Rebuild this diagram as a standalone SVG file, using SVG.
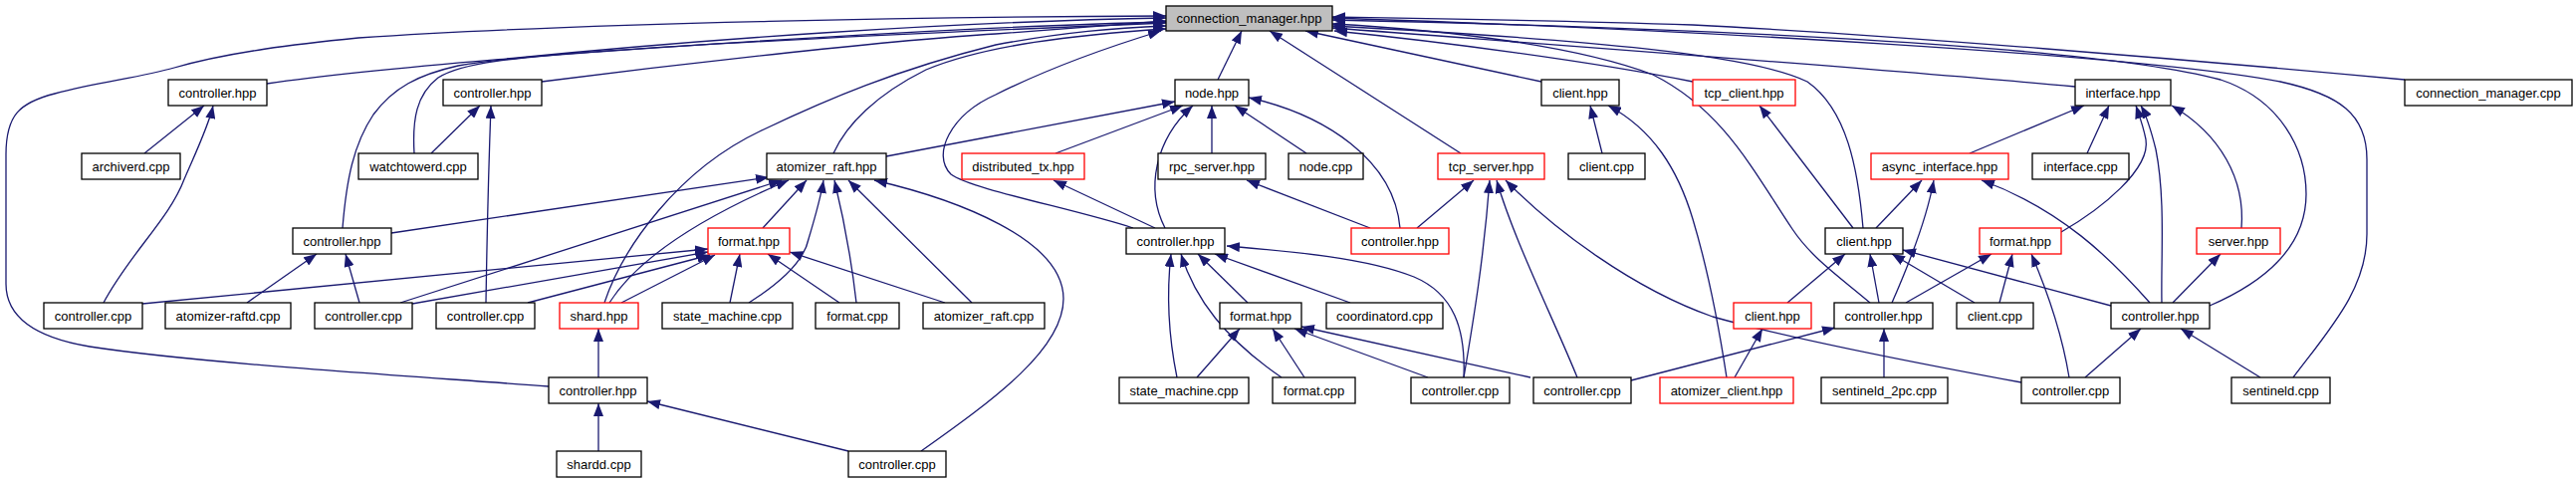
<svg xmlns="http://www.w3.org/2000/svg" width="2587" height="485" viewBox="0 0 2587 485">
<defs>
<style>
.nd rect{fill:#ffffff;stroke:#000000;stroke-width:1.3}
.nd.red rect{stroke:#ff0000}
.nd.root rect{fill:#bfbfbf}
.nd text{font-family:"Liberation Sans",Arial,sans-serif;font-size:13px;fill:#000000;text-anchor:middle}
.edges path{fill:none;stroke:#191970;stroke-width:1.3;marker-end:url(#ah)}
</style>
<marker id="ah" viewBox="0 0 13 10" refX="13" refY="5" markerWidth="13" markerHeight="10" markerUnits="userSpaceOnUse" orient="auto"><path d="M0,0 L13,5 L0,10 z" fill="#191970"/></marker>
</defs>
<rect width="2587" height="485" fill="#ffffff"/>
<g class="edges">
<!-- into connection_manager.hpp -->
<path d="M551,388 C420,378 200,365 90,348 C30,338 6,315 6,285 L6,155 C6,115 20,103 55,94 C100,82 140,78 175,68 C230,52 300,44 360,38 C600,22 950,17 1171,16"/>
<path d="M268,84 C350,72 450,64 520,58 C700,40 950,22 1171,18"/>
<path d="M544,82 C700,62 900,40 1000,34 C1080,28 1130,24 1171,21"/>
<path d="M344,229 C348,180 355,145 375,115 C395,88 420,75 460,66 C520,55 700,42 1171,23"/>
<path d="M416,154 C414,120 418,95 440,78 C465,62 520,58 600,52 C800,38 1000,26 1171,22"/>
<path d="M607,304 C625,250 680,170 767,130 C830,100 900,70 1000,45 C1070,32 1120,28 1171,26"/>
<path d="M837,154 C850,125 880,95 930,70 C990,45 1080,35 1171,29"/>
<path d="M1138,229 C1080,210 975,190 955,175 C935,155 955,115 1000,95 C1060,65 1120,45 1166,31"/>
<path d="M1223,80 L1247,31"/>
<path d="M1467,154 L1275,31"/>
<path d="M1548,82 L1311,31"/>
<path d="M1700,82 C1600,62 1450,42 1340,31"/>
<path d="M2084,87 C1900,70 1600,48 1338,28"/>
<path d="M2415,80 C2200,60 1900,35 1700,25 C1550,20 1400,18 1338,17"/>
<path d="M2219,307 C2270,285 2316,250 2316,195 C2316,150 2290,100 2230,80 C2100,45 1700,28 1338,20"/>
<path d="M2303,379 C2340,330 2377,290 2377,235 L2377,160 C2377,115 2350,95 2290,82 C2150,55 1700,30 1338,18"/>
<path d="M1878,304 C1850,280 1820,260 1800,230 C1760,170 1730,110 1660,75 C1580,45 1450,30 1338,24"/>
<path d="M1871,229 C1866,170 1855,110 1815,82 C1760,55 1600,40 1338,26"/>
<!-- left area -->
<path d="M145,154 L205,106"/>
<path d="M104,304 C130,255 170,220 185,180 C198,150 210,125 214,106"/>
<path d="M433,154 L482,106"/>
<path d="M488,304 C489,240 491,160 493,106"/>
<path d="M248,304 L318,255"/>
<path d="M361,304 L347,255"/>
<path d="M393,234 L772,178"/>
<path d="M402,304 L785,181"/>
<path d="M612,304 C640,260 700,220 792,181"/>
<path d="M766,229 L810,181"/>
<path d="M752,304 C790,280 808,260 812,240 C818,220 824,200 827,181"/>
<path d="M860,304 C855,260 845,210 838,181"/>
<path d="M976,304 L852,181"/>
<path d="M925,453 C1000,400 1068,350 1068,300 C1068,240 960,200 878,181"/>
<path d="M143,305 L711,250"/>
<path d="M414,305 L711,253"/>
<path d="M530,304 L713,256"/>
<path d="M624,304 L718,256"/>
<path d="M733,304 L743,255"/>
<path d="M843,304 L771,255"/>
<path d="M949,304 L793,253"/>
<path d="M601,379 L601,330"/>
<path d="M601,453 L601,405"/>
<path d="M852,453 L650,403"/>
<!-- node.hpp -->
<path d="M890,157 L1180,102"/>
<path d="M1060,154 L1188,106"/>
<path d="M1170,229 C1150,190 1160,140 1198,106"/>
<path d="M1217,154 L1217,106"/>
<path d="M1312,154 L1240,106"/>
<path d="M1406,229 C1400,160 1330,115 1254,98"/>
<path d="M1160,229 L1058,181"/>
<path d="M1376,229 L1252,181"/>
<!-- tcp_server.hpp -->
<path d="M1423,229 L1480,181"/>
<path d="M1470,379 C1480,320 1490,260 1496,181"/>
<path d="M1584,379 C1560,320 1520,240 1503,181"/>
<path d="M2030,384 C1900,360 1780,335 1720,318 C1640,290 1560,230 1512,181"/>
<!-- client.hpp row1 -->
<path d="M1609,154 L1597,106"/>
<path d="M1734,379 C1725,320 1712,260 1700,220 C1685,170 1660,130 1615,106"/>
<path d="M1861,229 L1767,106"/>
<!-- interface.hpp -->
<path d="M1978,154 L2093,106"/>
<path d="M2096,154 L2118,106"/>
<path d="M2070,233 C2110,210 2160,170 2155,140 C2152,125 2148,115 2145,106"/>
<path d="M2171,304 C2170,260 2175,200 2165,150 C2160,130 2155,115 2150,106"/>
<path d="M2251,229 C2255,180 2230,135 2181,106"/>
<!-- async_interface.hpp -->
<path d="M1884,229 L1930,181"/>
<path d="M1900,304 C1915,270 1935,220 1942,181"/>
<path d="M2159,304 C2120,260 2070,210 1990,181"/>
<!-- client.hpp row3 -->
<path d="M1795,304 L1853,255"/>
<path d="M1887,304 L1878,255"/>
<path d="M1983,304 L1900,255"/>
<path d="M2120,307 L1911,251"/>
<!-- format.hpp right -->
<path d="M1914,304 L2000,255"/>
<path d="M2008,304 L2021,255"/>
<path d="M2078,379 C2070,330 2055,290 2040,255"/>
<path d="M2182,304 L2230,255"/>
<!-- controller.hpp Q / S / P -->
<path d="M1892,379 L1892,330"/>
<path d="M1638,382 L1843,329"/>
<path d="M2094,379 L2150,330"/>
<path d="M2270,379 L2190,330"/>
<path d="M1742,379 L1770,330"/>
<!-- controller.hpp G -->
<path d="M1182,379 C1172,330 1172,290 1176,255"/>
<path d="M1287,379 C1230,340 1200,300 1186,255"/>
<path d="M1253,304 L1203,255"/>
<path d="M1356,304 L1220,255"/>
<path d="M1470,379 C1472,330 1460,295 1420,278 C1370,258 1290,252 1232,247"/>
<!-- format.hpp I -->
<path d="M1202,379 L1245,330"/>
<path d="M1310,379 L1278,330"/>
<path d="M1434,379 L1300,330"/>
<path d="M1537,379 L1307,328"/>
</g>
<g id="n_cm" class="nd root"><rect x="1171" y="6" width="167" height="25"/><text x="1254.5" y="23">connection_manager.hpp</text></g>
<g id="n_ctrlA" class="nd"><rect x="169" y="80" width="99" height="26"/><text x="218.5" y="98">controller.hpp</text></g>
<g id="n_ctrlB" class="nd"><rect x="445" y="80" width="99" height="26"/><text x="494.5" y="98">controller.hpp</text></g>
<g id="n_node" class="nd"><rect x="1180" y="80" width="74" height="26"/><text x="1217" y="98">node.hpp</text></g>
<g id="n_client1" class="nd"><rect x="1548" y="80" width="78" height="26"/><text x="1587" y="98">client.hpp</text></g>
<g id="n_tcpclient" class="nd red"><rect x="1700" y="80" width="103" height="26"/><text x="1751.5" y="98">tcp_client.hpp</text></g>
<g id="n_interface" class="nd"><rect x="2084" y="80" width="96" height="26"/><text x="2132" y="98">interface.hpp</text></g>
<g id="n_cmcpp" class="nd"><rect x="2415" y="80" width="168" height="26"/><text x="2499" y="98">connection_manager.cpp</text></g>
<g id="n_archiverd" class="nd"><rect x="82" y="154" width="99" height="26"/><text x="131.5" y="172">archiverd.cpp</text></g>
<g id="n_watchtowerd" class="nd"><rect x="360" y="154" width="120" height="26"/><text x="420" y="172">watchtowerd.cpp</text></g>
<g id="n_atomraft" class="nd"><rect x="770" y="154" width="120" height="26"/><text x="830" y="172">atomizer_raft.hpp</text></g>
<g id="n_disttx" class="nd red"><rect x="966" y="154" width="123" height="26"/><text x="1027.5" y="172">distributed_tx.hpp</text></g>
<g id="n_rpcserver" class="nd"><rect x="1163" y="154" width="108" height="26"/><text x="1217" y="172">rpc_server.hpp</text></g>
<g id="n_nodecpp" class="nd"><rect x="1294" y="154" width="75" height="26"/><text x="1331.5" y="172">node.cpp</text></g>
<g id="n_tcpserver" class="nd red"><rect x="1444" y="154" width="107" height="26"/><text x="1497.5" y="172">tcp_server.hpp</text></g>
<g id="n_clientcpp1" class="nd"><rect x="1575" y="154" width="77" height="26"/><text x="1613.5" y="172">client.cpp</text></g>
<g id="n_async" class="nd red"><rect x="1879" y="154" width="138" height="26"/><text x="1948" y="172">async_interface.hpp</text></g>
<g id="n_interfacecpp" class="nd"><rect x="2041" y="154" width="97" height="26"/><text x="2089.5" y="172">interface.cpp</text></g>
<g id="n_ctrlC" class="nd"><rect x="294" y="229" width="99" height="26"/><text x="343.5" y="247">controller.hpp</text></g>
<g id="n_format1" class="nd red"><rect x="711" y="229" width="82" height="26"/><text x="752" y="247">format.hpp</text></g>
<g id="n_ctrlG" class="nd"><rect x="1131" y="229" width="99" height="26"/><text x="1180.5" y="247">controller.hpp</text></g>
<g id="n_ctrlH" class="nd red"><rect x="1357" y="229" width="98" height="26"/><text x="1406" y="247">controller.hpp</text></g>
<g id="n_clientN" class="nd"><rect x="1833" y="229" width="78" height="26"/><text x="1872" y="247">client.hpp</text></g>
<g id="n_formatO" class="nd red"><rect x="1988" y="229" width="82" height="26"/><text x="2029" y="247">format.hpp</text></g>
<g id="n_server" class="nd red"><rect x="2206" y="229" width="84" height="26"/><text x="2248" y="247">server.hpp</text></g>
<g id="n_ctrlcppD1" class="nd"><rect x="44" y="304" width="99" height="26"/><text x="93.5" y="322">controller.cpp</text></g>
<g id="n_raftd" class="nd"><rect x="166" y="304" width="126" height="26"/><text x="229" y="322">atomizer-raftd.cpp</text></g>
<g id="n_ctrlcppD2" class="nd"><rect x="316" y="304" width="98" height="26"/><text x="365" y="322">controller.cpp</text></g>
<g id="n_ctrlcppD3" class="nd"><rect x="438" y="304" width="99" height="26"/><text x="487.5" y="322">controller.cpp</text></g>
<g id="n_shard" class="nd red"><rect x="562" y="304" width="79" height="26"/><text x="601.5" y="322">shard.hpp</text></g>
<g id="n_sm1" class="nd"><rect x="665" y="304" width="131" height="26"/><text x="730.5" y="322">state_machine.cpp</text></g>
<g id="n_formatcpp1" class="nd"><rect x="819" y="304" width="84" height="26"/><text x="861" y="322">format.cpp</text></g>
<g id="n_raftcpp" class="nd"><rect x="927" y="304" width="122" height="26"/><text x="988" y="322">atomizer_raft.cpp</text></g>
<g id="n_formatI" class="nd"><rect x="1225" y="304" width="82" height="26"/><text x="1266" y="322">format.hpp</text></g>
<g id="n_coord" class="nd"><rect x="1332" y="304" width="117" height="26"/><text x="1390.5" y="322">coordinatord.cpp</text></g>
<g id="n_clientP" class="nd red"><rect x="1741" y="304" width="78" height="26"/><text x="1780" y="322">client.hpp</text></g>
<g id="n_ctrlQ" class="nd"><rect x="1842" y="304" width="99" height="26"/><text x="1891.5" y="322">controller.hpp</text></g>
<g id="n_clientcppR" class="nd"><rect x="1965" y="304" width="77" height="26"/><text x="2003.5" y="322">client.cpp</text></g>
<g id="n_ctrlS" class="nd"><rect x="2120" y="304" width="99" height="26"/><text x="2169.5" y="322">controller.hpp</text></g>
<g id="n_ctrlE" class="nd"><rect x="551" y="379" width="99" height="26"/><text x="600.5" y="397">controller.hpp</text></g>
<g id="n_smJ" class="nd"><rect x="1124" y="379" width="130" height="26"/><text x="1189" y="397">state_machine.cpp</text></g>
<g id="n_formatcppK" class="nd"><rect x="1278" y="379" width="83" height="26"/><text x="1319.5" y="397">format.cpp</text></g>
<g id="n_ctrlcppL" class="nd"><rect x="1417" y="379" width="99" height="26"/><text x="1466.5" y="397">controller.cpp</text></g>
<g id="n_ctrlcppM" class="nd"><rect x="1540" y="379" width="98" height="26"/><text x="1589" y="397">controller.cpp</text></g>
<g id="n_atomclient" class="nd red"><rect x="1667" y="379" width="134" height="26"/><text x="1734" y="397">atomizer_client.hpp</text></g>
<g id="n_s2pc" class="nd"><rect x="1829" y="379" width="127" height="26"/><text x="1892.5" y="397">sentineld_2pc.cpp</text></g>
<g id="n_ctrlcppT" class="nd"><rect x="2030" y="379" width="99" height="26"/><text x="2079.5" y="397">controller.cpp</text></g>
<g id="n_sentineld" class="nd"><rect x="2241" y="379" width="99" height="26"/><text x="2290.5" y="397">sentineld.cpp</text></g>
<g id="n_shardd" class="nd"><rect x="559" y="453" width="85" height="26"/><text x="601.5" y="471">shardd.cpp</text></g>
<g id="n_ctrlcppF" class="nd"><rect x="852" y="453" width="98" height="26"/><text x="901" y="471">controller.cpp</text></g>
</svg>
